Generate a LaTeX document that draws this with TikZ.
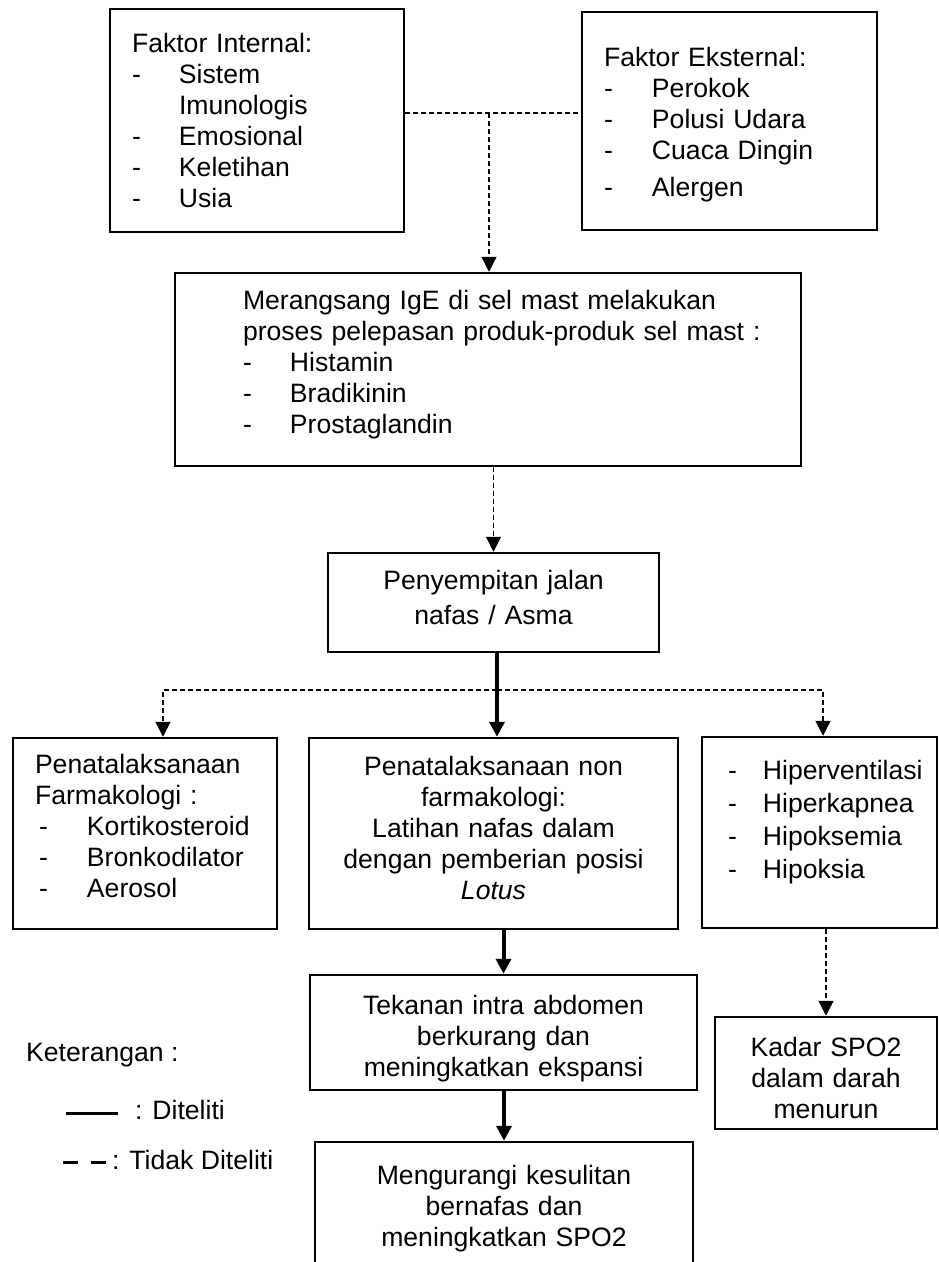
\documentclass[tikz,border=0pt]{standalone}
\usepackage{fontspec}
\setmainfont{Liberation Sans}
\usetikzlibrary{arrows.meta}

\newcommand{\dashitem}[2][47pt]{\makebox[#1][l]{-}#2}
\newcommand{\padTop}[1]{\hrule height 0pt\vspace{#1}}
\newcommand{\padBottom}[1]{\par\vspace{#1}\hrule height 0pt}

\begin{document}
\begin{tikzpicture}[
        x=1pt, y=-1pt,
        font=\fontsize{26.6}{31}\selectfont,
        flowBox/.style={rectangle, draw, line width=2.5pt, align=center, inner sep=0pt},
        listBox/.style={flowBox, align=left},
        thickArrow/.style={line width=4pt, -{Triangle[length=15pt, width=15pt]}},
        dashLine/.style={line width=1.2pt, dash pattern=on 5pt off 3pt},
        dashArrow/.style={dashLine, -{Triangle[length=15pt, width=15pt]}}
    ]
        \useasboundingbox (0,0) rectangle (939,1262);
        \clip (0,0) rectangle (939,1262);

        \node[listBox, text width=294pt, minimum height=223pt] (internal) at (257, 120.5) {\leftskip=22pt Faktor Internal:\\ \dashitem{Sistem}\\ \hspace*{47pt}Imunologis\\ \dashitem{Emosional}\\ \dashitem{Keletihan}\\ \dashitem{Usia}\par};
        \node[listBox, text width=295pt, minimum height=218pt] (external) at (729.5, 121) {\padTop{8pt}\leftskip=22pt Faktor Eksternal:\\ \dashitem[48pt]{Perokok}\\ \dashitem[48pt]{Polusi Udara}\\ \dashitem[48pt]{Cuaca Dingin}\\[6pt] \dashitem[48pt]{Alergen}\par};
        \node[listBox, text width=626pt, minimum height=193pt] (mastCell) at (488, 369.5) {\leftskip=68pt Merangsang IgE di sel mast melakukan\\ proses pelepasan produk-produk sel mast :\\ \dashitem{Histamin}\\ \dashitem{Bradikinin}\\ \dashitem{Prostaglandin}\padBottom{9pt}};
        \node[flowBox, text width=331pt, minimum height=99pt] (asthma) at (493.5, 602.5) {Penyempitan jalan\\[4pt] nafas / Asma\padBottom{10pt}};
        \node[listBox, text width=264pt, minimum height=191pt] (pharma) at (145, 833.5) {\leftskip=22pt Penatalaksanaan\\ Farmakologi :\\ \hspace*{4pt}\dashitem[48pt]{Kortikosteroid}\\ \hspace*{4pt}\dashitem[48pt]{Bronkodilator}\\ \hspace*{4pt}\dashitem[48pt]{Aerosol}\padBottom{16pt}};
        \node[flowBox, text width=369pt, minimum height=191pt] (nonPharma) at (493.5, 833.5) {Penatalaksanaan non\\ farmakologi:\\ Latihan nafas dalam\\ dengan pemberian posisi\\ \textit{Lotus}\padBottom{12pt}};
        \node[listBox, text width=235pt, minimum height=191pt] (symptoms) at (819.5, 832.5) {\leftskip=26pt \dashitem[35pt]{Hiperventilasi}\\[2pt] \dashitem[35pt]{Hiperkapnea}\\[2pt] \dashitem[35pt]{Hipoksemia}\\[2pt] \dashitem[35pt]{Hipoksia}\padBottom{20pt}};
        \node[flowBox, text width=387pt, minimum height=115pt] (pressure) at (503.5, 1032.5) {\padTop{12pt}Tekanan intra abdomen\\ berkurang dan\\ meningkatkan ekspansi\par};
        \node[flowBox, text width=222pt, minimum height=112pt] (spoLow) at (826, 1073) {\padTop{10pt}Kadar SPO2\\ dalam darah\\ menurun\par};
        \node[flowBox, text width=378pt, minimum height=133pt] (relief) at (504, 1208.5) {Mengurangi kesulitan\\ bernafas dan\\ meningkatkan SPO2\par};

        % keterangan
        \node[anchor=west, inner sep=0pt] (legendTitle) at (26, 1055) {Keterangan :};
        \node[anchor=west, inner sep=0pt] (legendSolid) at (135, 1110) {: Diteliti};
        \node[anchor=west, inner sep=0pt] (legendDashed) at (112, 1160) {: Tidak Diteliti};
        \draw[line width=3pt] ([xshift=-69pt, yshift=-3pt]legendSolid.west) -- ([xshift=-17pt, yshift=-3pt]legendSolid.west);
        \draw[line width=3pt, dash pattern=on 15pt off 13pt] ([xshift=-49pt, yshift=-2pt]legendDashed.west) -- ([xshift=-5pt, yshift=-2pt]legendDashed.west);

        \coordinate (factorJoin) at (489, 113);
        \coordinate (treatJoin) at (497, 690);

        \draw[dashLine] (internal.east |- factorJoin) -- (external.west |- factorJoin);
        \draw[dashArrow] (factorJoin) -- (factorJoin |- mastCell.north);
        \draw[dashArrow] (asthma.north |- mastCell.south) -- (asthma.north);
        \draw[thickArrow] (treatJoin |- asthma.south) -- (treatJoin |- nonPharma.north);
        \draw[dashArrow] (treatJoin) -| ([xshift=18pt]pharma.north);
        \draw[dashArrow] (treatJoin) -| ([xshift=3.5pt]symptoms.north);
        \draw[thickArrow] (pressure.north |- nonPharma.south) -- (pressure.north);
        \draw[thickArrow] (relief.north |- pressure.south) -- (relief.north);
        \draw[dashArrow] (spoLow.north |- symptoms.south) -- (spoLow.north);
    \end{tikzpicture}
\end{document}
